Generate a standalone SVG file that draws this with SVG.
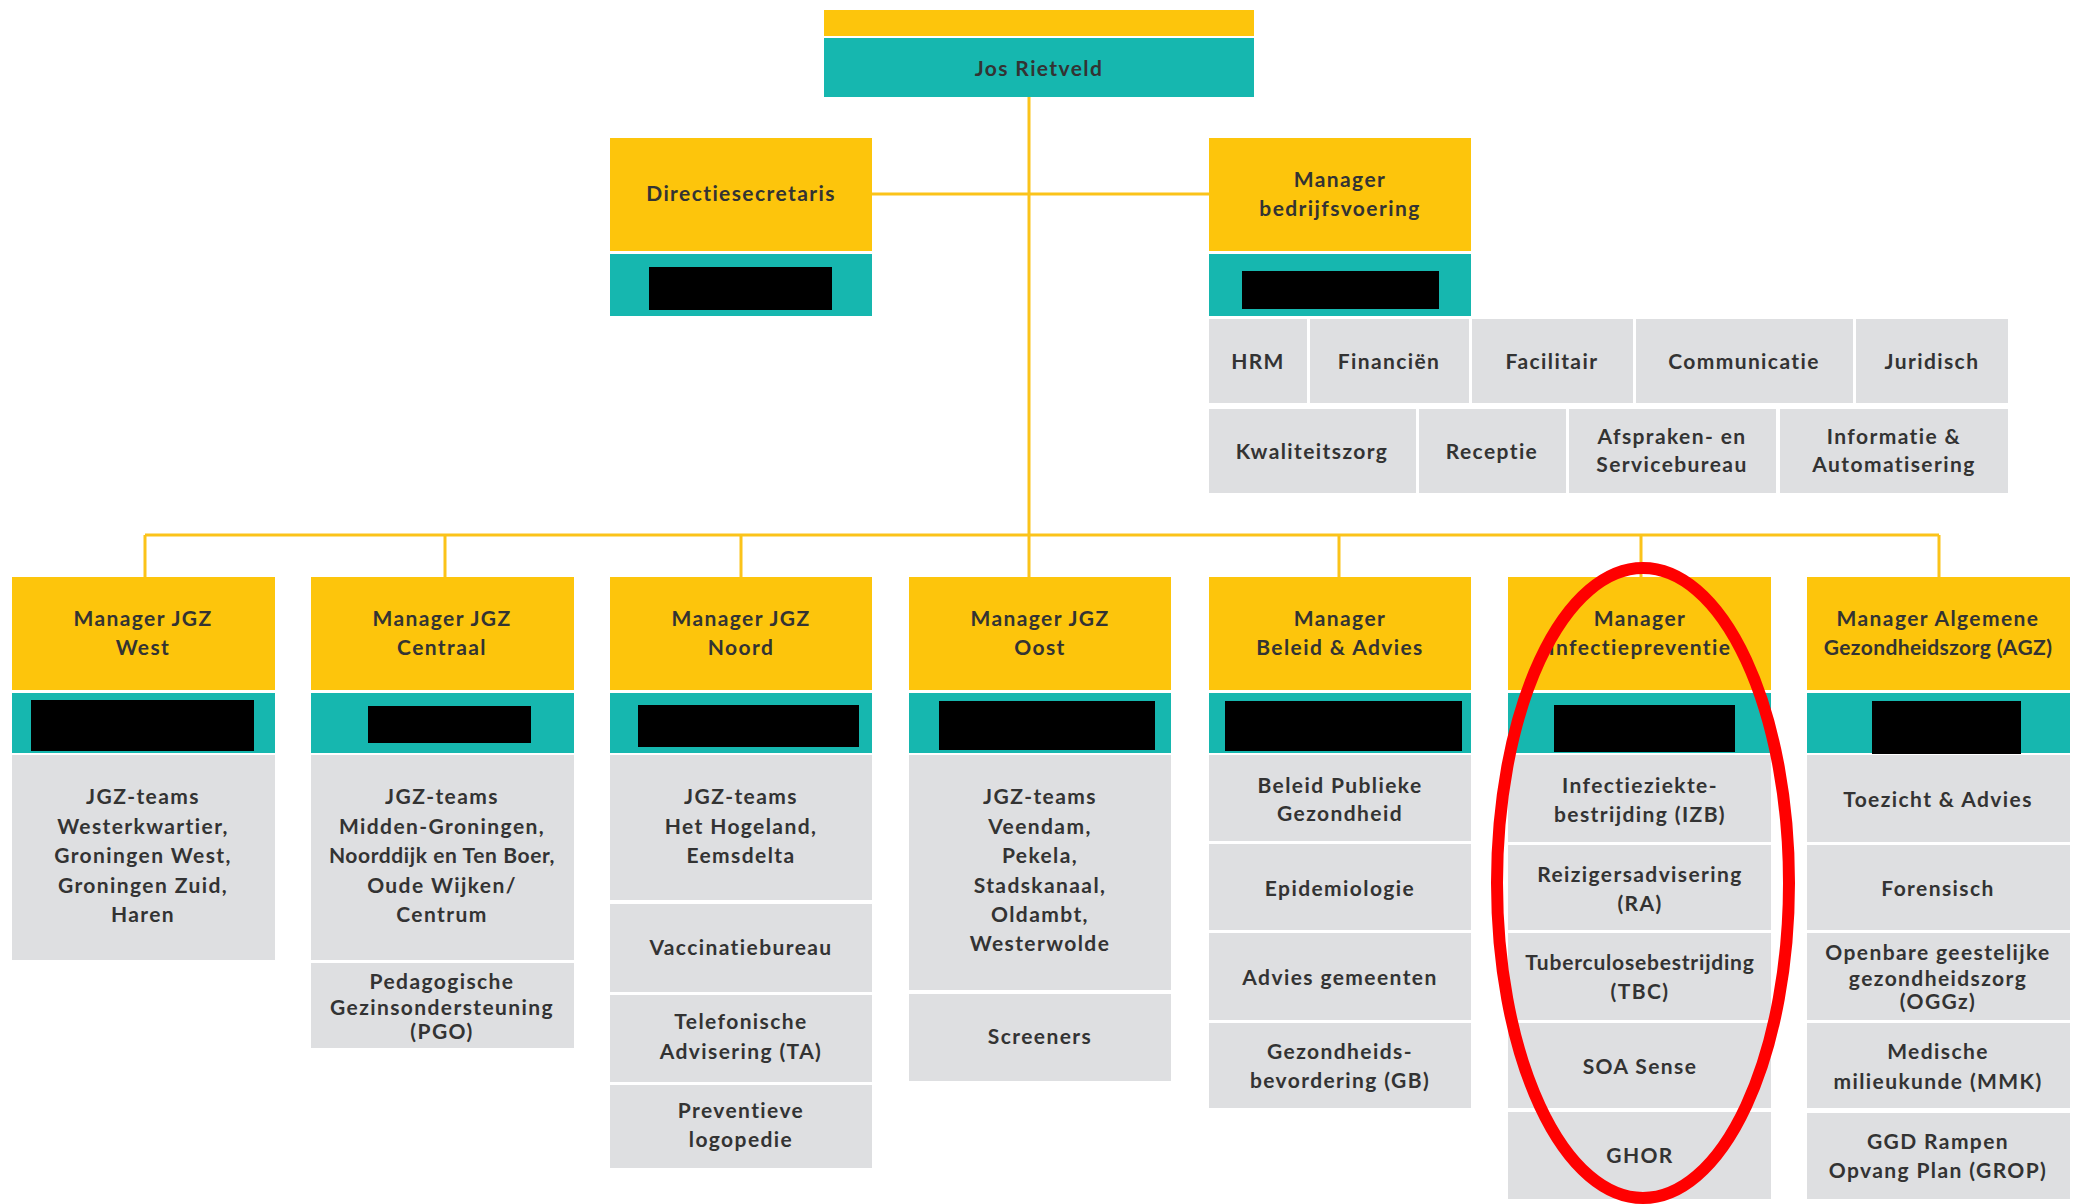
<svg xmlns="http://www.w3.org/2000/svg" width="2074" height="1204" viewBox="0 0 2074 1204">
<style>
.y{fill:#FDC50C}
.t{fill:#16B7AF}
.k{fill:#000}
.g{fill:#DEDFE1}
text{font-family:Lato,"Open Sans","Liberation Sans",sans-serif;font-weight:700;font-size:21px;letter-spacing:1.4px;fill:#333;text-anchor:middle}
.ln{stroke:#FBC31A;stroke-width:3;fill:none}
</style>
<rect width="2074" height="1204" fill="#fff"/>
<g id="connectors">
<path class="ln" d="M1029 97V577M872 194H1209M145 535H1939M145 535V577M445 535V577M741 535V577M1339 535V577M1641 535V577M1939 535V577"/>
</g>
<g id="jos">
<rect class="y" x="824" y="10" width="430" height="26"/>
<rect class="t" x="824" y="38" width="430" height="59"/>
<text x="1039" y="76">Jos Rietveld</text>
</g>
<g id="directiesecretaris">
<rect class="y" x="610" y="138" width="262" height="113"/>
<rect class="t" x="610" y="254" width="262" height="62"/>
<rect class="k" x="649" y="267" width="183" height="43"/>
<text x="741" y="201">Directiesecretaris</text>
</g>
<g id="bedrijfsvoering">
<rect class="y" x="1209" y="138" width="262" height="113"/>
<rect class="t" x="1209" y="254" width="262" height="62"/>
<rect class="k" x="1242" y="271" width="197" height="38"/>
<text x="1340" y="187">Manager</text>
<text x="1340" y="216">bedrijfsvoering</text>
</g>
<g id="bedrijfsvoering-units">
<rect class="g" x="1209" y="319" width="98" height="84"/><text x="1258" y="369">HRM</text>
<rect class="g" x="1310" y="319" width="159" height="84"/><text x="1389" y="369">Financiën</text>
<rect class="g" x="1472" y="319" width="161" height="84"/><text x="1552" y="369">Facilitair</text>
<rect class="g" x="1636" y="319" width="217" height="84"/><text x="1744" y="369">Communicatie</text>
<rect class="g" x="1856" y="319" width="152" height="84"/><text x="1932" y="369">Juridisch</text>
<rect class="g" x="1209" y="409" width="207" height="84"/><text x="1312" y="459">Kwaliteitszorg</text>
<rect class="g" x="1419" y="409" width="147" height="84"/><text x="1492" y="459">Receptie</text>
<rect class="g" x="1569" y="409" width="207" height="84"/><text x="1672" y="444">Afspraken- en</text><text x="1672" y="472">Servicebureau</text>
<rect class="g" x="1780" y="409" width="228" height="84"/><text x="1894" y="444">Informatie &amp;</text><text x="1894" y="472">Automatisering</text>
</g>
<g id="jgz-west">
<rect class="y" x="12" y="577" width="263" height="113"/>
<rect class="t" x="12" y="693" width="263" height="60"/>
<rect class="k" x="31" y="700" width="223" height="51"/>
<text x="143" y="626">Manager JGZ</text><text x="143" y="655">West</text>
<rect class="g" x="12" y="755" width="263" height="205"/>
<text x="143" y="804">JGZ-teams</text><text x="143" y="834">Westerkwartier,</text><text x="143" y="863">Groningen West,</text><text x="143" y="893">Groningen Zuid,</text><text x="143" y="922">Haren</text>
</g>
<g id="jgz-centraal">
<rect class="y" x="311" y="577" width="263" height="113"/>
<rect class="t" x="311" y="693" width="263" height="60"/>
<rect class="k" x="368" y="706" width="163" height="37"/>
<text x="442" y="626">Manager JGZ</text><text x="442" y="655">Centraal</text>
<rect class="g" x="311" y="755" width="263" height="205"/>
<text x="442" y="804">JGZ-teams</text><text x="442" y="834">Midden-Groningen,</text><text x="442" y="863" style="letter-spacing:0.6px">Noorddijk en Ten Boer,</text><text x="442" y="893">Oude Wijken/</text><text x="442" y="922">Centrum</text>
<rect class="g" x="311" y="963" width="263" height="85"/>
<text x="442" y="989">Pedagogische</text><text x="442" y="1015">Gezinsondersteuning</text><text x="442" y="1039">(PGO)</text>
</g>
<g id="jgz-noord">
<rect class="y" x="610" y="577" width="262" height="113"/>
<rect class="t" x="610" y="693" width="262" height="60"/>
<rect class="k" x="638" y="705" width="221" height="42"/>
<text x="741" y="626">Manager JGZ</text><text x="741" y="655">Noord</text>
<rect class="g" x="610" y="755" width="262" height="145"/>
<text x="741" y="804">JGZ-teams</text><text x="741" y="834">Het Hogeland,</text><text x="741" y="863">Eemsdelta</text>
<rect class="g" x="610" y="904" width="262" height="88"/><text x="741" y="955">Vaccinatiebureau</text>
<rect class="g" x="610" y="995" width="262" height="87"/><text x="741" y="1029">Telefonische</text><text x="741" y="1059">Advisering (TA)</text>
<rect class="g" x="610" y="1085" width="262" height="83"/><text x="741" y="1118">Preventieve</text><text x="741" y="1147">logopedie</text>
</g>
<g id="jgz-oost">
<rect class="y" x="909" y="577" width="262" height="113"/>
<rect class="t" x="909" y="693" width="262" height="60"/>
<rect class="k" x="939" y="701" width="216" height="49"/>
<text x="1040" y="626">Manager JGZ</text><text x="1040" y="655">Oost</text>
<rect class="g" x="909" y="755" width="262" height="235"/>
<text x="1040" y="804">JGZ-teams</text><text x="1040" y="834">Veendam,</text><text x="1040" y="863">Pekela,</text><text x="1040" y="893">Stadskanaal,</text><text x="1040" y="922">Oldambt,</text><text x="1040" y="951">Westerwolde</text>
<rect class="g" x="909" y="994" width="262" height="87"/><text x="1040" y="1044">Screeners</text>
</g>
<g id="beleid-advies">
<rect class="y" x="1209" y="577" width="262" height="113"/>
<rect class="t" x="1209" y="693" width="262" height="60"/>
<rect class="k" x="1225" y="701" width="237" height="50"/>
<text x="1340" y="626">Manager</text><text x="1340" y="655">Beleid &amp; Advies</text>
<rect class="g" x="1209" y="755" width="262" height="86"/><text x="1340" y="793">Beleid Publieke</text><text x="1340" y="821">Gezondheid</text>
<rect class="g" x="1209" y="844" width="262" height="86"/><text x="1340" y="896">Epidemiologie</text>
<rect class="g" x="1209" y="933" width="262" height="87"/><text x="1340" y="985">Advies gemeenten</text>
<rect class="g" x="1209" y="1023" width="262" height="85"/><text x="1340" y="1059">Gezondheids-</text><text x="1340" y="1088">bevordering (GB)</text>
</g>
<g id="infectiepreventie">
<rect class="y" x="1508" y="577" width="263" height="113"/>
<rect class="t" x="1508" y="693" width="263" height="60"/>
<rect class="k" x="1554" y="705" width="181" height="47"/>
<text x="1640" y="626">Manager</text><text x="1640" y="655">Infectiepreventie</text>
<rect class="g" x="1508" y="755" width="263" height="87"/><text x="1640" y="793">Infectieziekte-</text><text x="1640" y="822">bestrijding (IZB)</text>
<rect class="g" x="1508" y="845" width="263" height="85"/><text x="1640" y="882">Reizigersadvisering</text><text x="1640" y="911">(RA)</text>
<rect class="g" x="1508" y="933" width="263" height="87"/><text x="1640" y="970" style="letter-spacing:0.8px">Tuberculosebestrijding</text><text x="1640" y="999">(TBC)</text>
<rect class="g" x="1508" y="1023" width="263" height="85"/><text x="1640" y="1074">SOA Sense</text>
<rect class="g" x="1508" y="1112" width="263" height="87"/><text x="1640" y="1163">GHOR</text>
</g>
<g id="agz">
<rect class="y" x="1807" y="577" width="263" height="113"/>
<rect class="t" x="1807" y="693" width="263" height="60"/>
<rect class="k" x="1872" y="701" width="149" height="53"/>
<text x="1938" y="626">Manager Algemene</text><text x="1938" y="655" style="letter-spacing:0.4px">Gezondheidszorg (AGZ)</text>
<rect class="g" x="1807" y="755" width="263" height="87"/><text x="1938" y="807">Toezicht &amp; Advies</text>
<rect class="g" x="1807" y="845" width="263" height="85"/><text x="1938" y="896">Forensisch</text>
<rect class="g" x="1807" y="933" width="263" height="87"/><text x="1938" y="960">Openbare geestelijke</text><text x="1938" y="986">gezondheidszorg</text><text x="1938" y="1009">(OGGz)</text>
<rect class="g" x="1807" y="1023" width="263" height="85"/><text x="1938" y="1059">Medische</text><text x="1938" y="1089">milieukunde (MMK)</text>
<rect class="g" x="1807" y="1113" width="263" height="86"/><text x="1938" y="1149">GGD Rampen</text><text x="1938" y="1178">Opvang Plan (GROP)</text>
</g>
<ellipse cx="1643" cy="883" rx="146" ry="315" fill="none" stroke="#FF0000" stroke-width="12"/>
</svg>
